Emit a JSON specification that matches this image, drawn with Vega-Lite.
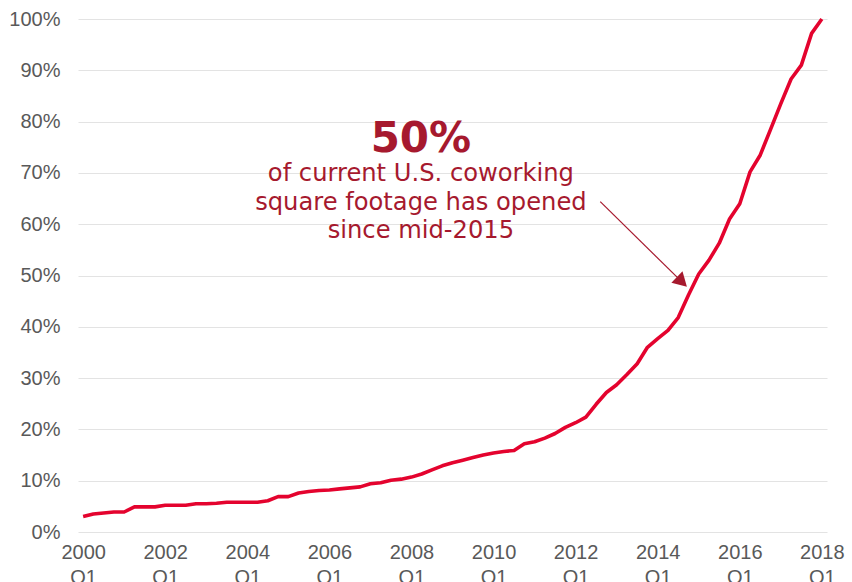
{
  "$schema": "https://vega.github.io/schema/vega-lite/v6.json",
  "width": 749,
  "height": 513,
  "autosize": {"type": "none"},
  "padding": {"left": 78, "top": 19, "right": 25, "bottom": 50},
  "background": "white",
  "config": {"view": {"stroke": null}, "font": "Liberation Sans"},
  "datasets": {
    "series": [
      {"t": 2000.00, "v": 0.030}, {"t": 2000.25, "v": 0.035}, {"t": 2000.50, "v": 0.037}, {"t": 2000.75, "v": 0.039},
      {"t": 2001.00, "v": 0.039}, {"t": 2001.25, "v": 0.049}, {"t": 2001.50, "v": 0.049}, {"t": 2001.75, "v": 0.049},
      {"t": 2002.00, "v": 0.052}, {"t": 2002.25, "v": 0.052}, {"t": 2002.50, "v": 0.052}, {"t": 2002.75, "v": 0.055},
      {"t": 2003.00, "v": 0.055}, {"t": 2003.25, "v": 0.056}, {"t": 2003.50, "v": 0.058}, {"t": 2003.75, "v": 0.058},
      {"t": 2004.00, "v": 0.058}, {"t": 2004.25, "v": 0.058}, {"t": 2004.50, "v": 0.061}, {"t": 2004.75, "v": 0.069},
      {"t": 2005.00, "v": 0.069}, {"t": 2005.25, "v": 0.076}, {"t": 2005.50, "v": 0.079}, {"t": 2005.75, "v": 0.081},
      {"t": 2006.00, "v": 0.082}, {"t": 2006.25, "v": 0.084}, {"t": 2006.50, "v": 0.086}, {"t": 2006.75, "v": 0.088},
      {"t": 2007.00, "v": 0.094}, {"t": 2007.25, "v": 0.096}, {"t": 2007.50, "v": 0.101}, {"t": 2007.75, "v": 0.103},
      {"t": 2008.00, "v": 0.107}, {"t": 2008.25, "v": 0.113}, {"t": 2008.50, "v": 0.121}, {"t": 2008.75, "v": 0.129},
      {"t": 2009.00, "v": 0.135}, {"t": 2009.25, "v": 0.140}, {"t": 2009.50, "v": 0.145}, {"t": 2009.75, "v": 0.150},
      {"t": 2010.00, "v": 0.154}, {"t": 2010.25, "v": 0.157}, {"t": 2010.50, "v": 0.159}, {"t": 2010.75, "v": 0.172},
      {"t": 2011.00, "v": 0.176}, {"t": 2011.25, "v": 0.183}, {"t": 2011.50, "v": 0.192}, {"t": 2011.75, "v": 0.204},
      {"t": 2012.00, "v": 0.213}, {"t": 2012.25, "v": 0.224}, {"t": 2012.50, "v": 0.249}, {"t": 2012.75, "v": 0.272},
      {"t": 2013.00, "v": 0.287}, {"t": 2013.25, "v": 0.307}, {"t": 2013.50, "v": 0.328}, {"t": 2013.75, "v": 0.360},
      {"t": 2014.00, "v": 0.377}, {"t": 2014.25, "v": 0.393}, {"t": 2014.50, "v": 0.418}, {"t": 2014.75, "v": 0.462},
      {"t": 2015.00, "v": 0.503}, {"t": 2015.25, "v": 0.530}, {"t": 2015.50, "v": 0.563}, {"t": 2015.75, "v": 0.610},
      {"t": 2016.00, "v": 0.640}, {"t": 2016.25, "v": 0.702}, {"t": 2016.50, "v": 0.735}, {"t": 2016.75, "v": 0.785},
      {"t": 2017.00, "v": 0.835}, {"t": 2017.25, "v": 0.883}, {"t": 2017.50, "v": 0.910}, {"t": 2017.75, "v": 0.972},
      {"t": 2018.00, "v": 1.000}
    ],
    "notes": [
      {"t": 2008.23, "v": 0.7413, "label": "50%", "kind": "big"},
      {"t": 2008.23, "v": 0.6842, "label": "of current U.S. coworking", "kind": "small"},
      {"t": 2008.23, "v": 0.6277, "label": "square footage has opened", "kind": "small"},
      {"t": 2008.23, "v": 0.5725, "label": "since mid-2015", "kind": "small"}
    ],
    "arrow": [
      {"t": 2012.60, "v": 0.6439, "t2": 2014.59, "v2": 0.4875}
    ]
  },
  "layer": [
    {
      "data": {"name": "series"},
      "mark": {"type": "line", "color": "#e4032e", "strokeWidth": 3.6, "strokeJoin": "round"},
      "encoding": {
        "x": {
          "field": "t", "type": "quantitative",
          "scale": {"domain": [1999.875, 2018.125], "nice": false, "zero": false},
          "axis": {
            "title": null, "grid": false, "domain": false, "ticks": false,
            "values": [2000, 2002, 2004, 2006, 2008, 2010, 2012, 2014, 2016, 2018],
            "labelExpr": "[format(datum.value, 'd'), 'Q1']",
            "labelFontSize": 20, "labelColor": "#595959", "labelPadding": 10,
            "labelLineHeight": 25, "labelFlush": false, "labelOverlap": false
          }
        },
        "y": {
          "field": "v", "type": "quantitative",
          "scale": {"domain": [0, 1], "nice": false},
          "axis": {
            "title": null, "domain": false, "ticks": false,
            "values": [0, 0.1, 0.2, 0.3, 0.4, 0.5, 0.6, 0.7, 0.8, 0.9, 1],
            "format": ".0%", "labelFontSize": 20, "labelColor": "#595959",
            "labelPadding": 18, "gridColor": "#e3e3e3", "gridWidth": 1.2, "labelFlush": false
          }
        }
      }
    },
    {
      "data": {"name": "notes"},
      "transform": [{"filter": "datum.kind === 'big'"}],
      "mark": {"type": "text", "font": "DejaVu Sans", "fontWeight": "bold", "fontSize": 42, "color": "#a6192e", "align": "center", "baseline": "alphabetic"},
      "encoding": {
        "x": {"field": "t", "type": "quantitative"},
        "y": {"field": "v", "type": "quantitative"},
        "text": {"field": "label"}
      }
    },
    {
      "data": {"name": "notes"},
      "transform": [{"filter": "datum.kind === 'small'"}],
      "mark": {"type": "text", "font": "DejaVu Sans", "fontSize": 24.2, "color": "#a6192e", "align": "center", "baseline": "alphabetic"},
      "encoding": {
        "x": {"field": "t", "type": "quantitative"},
        "y": {"field": "v", "type": "quantitative"},
        "text": {"field": "label"}
      }
    },
    {
      "data": {"name": "arrow"},
      "mark": {"type": "rule", "color": "#a6192e", "strokeWidth": 1.2},
      "encoding": {
        "x": {"field": "t", "type": "quantitative"},
        "y": {"field": "v", "type": "quantitative"},
        "x2": {"field": "t2"},
        "y2": {"field": "v2"}
      }
    },
    {
      "data": {"name": "arrow"},
      "mark": {"type": "point", "shape": "triangle-up", "filled": true, "color": "#a6192e", "size": 256, "angle": 134, "opacity": 1},
      "encoding": {
        "x": {"field": "t2", "type": "quantitative"},
        "y": {"field": "v2", "type": "quantitative"}
      }
    }
  ]
}
